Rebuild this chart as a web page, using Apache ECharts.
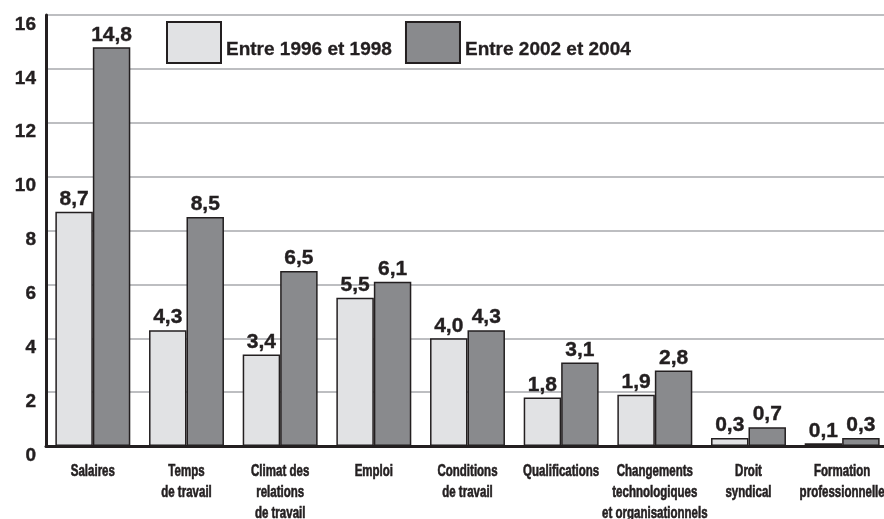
<!DOCTYPE html>
<html>
<head>
<meta charset="utf-8">
<script src="https://cdn.jsdelivr.net/npm/echarts@6/dist/echarts.min.js"></script>
<style>
  html, body { margin: 0; padding: 0; background: #fff; }
  #wrap { position: relative; width: 884px; height: 519px; overflow: hidden; }
  #chart { position: absolute; left: 0; top: 0; width: 884px; height: 519px; }
  /* category labels use a narrow face in the original; squeeze them horizontally */
  #labels { position: absolute; left: 0; top: 0; width: 1260px; height: 519px;
            transform: scaleX(0.72); transform-origin: 0 0; pointer-events: none; }
</style>
</head>
<body>
<div id="wrap">
  <div id="chart"></div>
  <div id="labels"></div>
</div>
<script>
var categories = ['Salaires', 'Temps\nde travail', 'Climat des\nrelations\nde travail', 'Emploi',
  'Conditions\nde travail', 'Qualifications', 'Changements\ntechnologiques\net organisationnels',
  'Droit\nsyndical', 'Formation\nprofessionnelle'];
var period1 = [8.7, 4.3, 3.4, 5.5, 4.0, 1.8, 1.9, 0.3, 0.1];
var period2 = [14.8, 8.5, 6.5, 6.1, 4.3, 3.1, 2.8, 0.7, 0.3];
var seriesNames = ['Entre 1996 et 1998', 'Entre 2002 et 2004'];

var font = '"Liberation Sans", Arial, sans-serif';
var ink = '#231f20';
var squeeze = 0.72;

function valueLabel() {
  return {
    show: true,
    position: 'top',
    distance: 2,
    fontFamily: font,
    fontWeight: 'bold',
    fontSize: 21,
    color: ink,
    textBorderColor: ink,
    textBorderWidth: 0.4,
    formatter: function (p) { return p.value.toFixed(1).replace('.', ','); }
  };
}

var chart = echarts.init(document.getElementById('chart'));
chart.setOption({
  animation: false,
  backgroundColor: '#fff',
  textStyle: { fontFamily: font },
  legend: {
    left: 166,
    top: 21,
    padding: 0,
    itemWidth: 54,
    itemHeight: 41,
    itemGap: 13,
    icon: 'rect',
    formatter: '{t|{name}}',
    textStyle: {
      fontFamily: font, fontWeight: 'bold', fontSize: 19, color: ink,
      rich: { t: { fontFamily: font, fontWeight: 'bold', fontSize: 19, color: ink,
                   textBorderColor: ink, textBorderWidth: 0.3, padding: [14, 0, 0, 0] } }
    },
    data: seriesNames
  },
  grid: { left: 46, right: -5, top: 15, bottom: 73, containLabel: false, outerBoundsMode: 'none' },
  xAxis: {
    type: 'category',
    data: categories,
    axisLine: { lineStyle: { color: ink, width: 3 } },
    axisTick: { show: false },
    axisLabel: { show: false }
  },
  yAxis: {
    type: 'value',
    min: 0,
    max: 16,
    interval: 2,
    axisLine: { show: true, lineStyle: { color: ink, width: 3 } },
    axisTick: { show: false },
    splitLine: { lineStyle: { color: '#a7a9ac', width: 1.5 } },
    axisLabel: {
      margin: 10,
      fontFamily: font,
      fontWeight: 'bold',
      fontSize: 19,
      color: ink,
      textBorderColor: ink,
      textBorderWidth: 0.4,
      verticalAlign: 'top',
      lineHeight: 19
    }
  },
  series: [
    {
      name: seriesNames[0],
      type: 'bar',
      data: period1,
      barGap: '0%',
      barCategoryGap: '20%',
      itemStyle: { color: '#e1e2e4', borderColor: ink, borderWidth: 1.5 },
      label: valueLabel()
    },
    {
      name: seriesNames[1],
      type: 'bar',
      data: period2,
      barGap: '0%',
      barCategoryGap: '20%',
      itemStyle: { color: '#898a8d', borderColor: ink, borderWidth: 1.5 },
      label: valueLabel()
    }
  ]
});

// category labels, same axis geometry but drawn in a horizontally squeezed layer
var labelLeft = 46 / squeeze;
var labelWidth = 843 / squeeze;
var labels = echarts.init(document.getElementById('labels'), null, { renderer: 'svg' });
labels.setOption({
  animation: false,
  grid: { left: labelLeft, right: 1260 - labelLeft - labelWidth, top: 15, bottom: 73,
          containLabel: false, outerBoundsMode: 'none' },
  xAxis: {
    type: 'category',
    data: categories,
    axisLine: { show: false },
    axisTick: { show: false },
    axisLabel: {
      interval: 0,
      margin: 14,
      fontFamily: font,
      fontWeight: 'bold',
      fontSize: 16,
      lineHeight: 21,
      color: ink,
      textBorderColor: ink,
      textBorderWidth: 0.6
    }
  },
  yAxis: { type: 'value', min: 0, max: 16, show: false },
  series: []
});
</script>
</body>
</html>
